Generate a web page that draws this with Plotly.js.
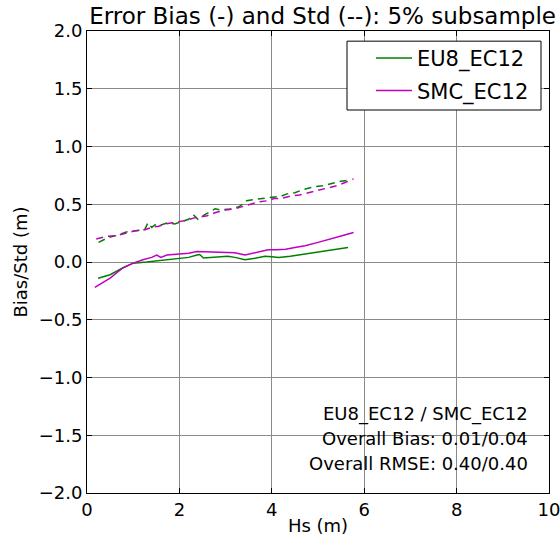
<!DOCTYPE html>
<html>
<head>
<meta charset="utf-8">
<script src="https://cdn.plot.ly/plotly-3.0.1.min.js"></script>
<style>html,body{margin:0;padding:0;background:#fff;}#chart{width:560px;height:537px;}</style>
</head>
<body>
<div id="chart"></div>
<script>
// Bias (solid)
const euBiasX = [0.24,0.5,0.78,1.0,1.29,1.5,1.73,1.99,2.2,2.38,2.44,2.52,2.7,2.89,3.05,3.2,3.42,3.6,3.85,4.0,4.15,4.4,4.72,5.0,5.2,5.45,5.65];
const euBiasY = [-0.14,-0.11,-0.05,-0.01,0.0,0.01,0.015,0.03,0.04,0.06,0.065,0.035,0.04,0.045,0.05,0.04,0.02,0.03,0.05,0.045,0.04,0.05,0.07,0.085,0.10,0.11,0.125];
const smcBiasX = [0.17,0.3,0.5,0.78,1.0,1.21,1.4,1.51,1.6,1.73,1.99,2.2,2.38,2.6,2.8,3.05,3.2,3.42,3.65,3.92,4.1,4.3,4.5,4.72,5.0,5.2,5.5,5.77];
const smcBiasY = [-0.22,-0.19,-0.14,-0.05,-0.01,0.02,0.04,0.06,0.04,0.06,0.065,0.075,0.09,0.087,0.087,0.087,0.08,0.06,0.08,0.105,0.105,0.11,0.125,0.14,0.17,0.19,0.225,0.255];
// Std (dashed)
const euStdX = [0.25,0.45,0.65,0.85,1.05,1.25,1.32,1.4,1.5,1.6,1.75,1.9,2.05,2.2,2.3,2.4,2.55,2.77,2.9,3.1,3.3,3.45,3.6,3.8,3.97,4.2,4.33,4.5,4.7,4.9,5.1,5.3,5.5,5.7];
const euStdY = [0.17,0.21,0.23,0.26,0.27,0.28,0.34,0.30,0.33,0.32,0.34,0.33,0.35,0.37,0.41,0.37,0.41,0.46,0.45,0.46,0.48,0.53,0.54,0.55,0.56,0.57,0.59,0.60,0.63,0.65,0.66,0.68,0.70,0.71];
const smcStdX = [0.2,0.4,0.65,0.85,1.05,1.25,1.4,1.55,1.7,1.85,2.0,2.15,2.3,2.45,2.6,2.8,3.0,3.2,3.35,3.5,3.7,3.9,4.05,4.2,4.4,4.6,4.8,5.0,5.2,5.4,5.6,5.77];
const smcStdY = [0.20,0.22,0.23,0.25,0.27,0.28,0.30,0.31,0.33,0.34,0.35,0.36,0.38,0.39,0.40,0.43,0.45,0.46,0.48,0.50,0.52,0.53,0.55,0.55,0.57,0.58,0.60,0.62,0.64,0.66,0.69,0.72];

const legendNames = ["EU8_EC12", "SMC_EC12"];
const statLines = ["EU8_EC12 / SMC_EC12", "Overall Bias: 0.01/0.04", "Overall RMSE: 0.40/0.40"];

const GREEN = "#008000", MAG = "#bf00bf";
const FONT = "DejaVu Sans, sans-serif";

const traces = [
  {x: euBiasX, y: euBiasY, mode: "lines", name: legendNames[0], legendgroup: "a", line: {color: GREEN, width: 1.5}},
  {x: smcBiasX, y: smcBiasY, mode: "lines", name: legendNames[1], legendgroup: "b", line: {color: MAG, width: 1.5}},
  {x: euStdX, y: euStdY, mode: "lines", showlegend: false, line: {color: GREEN, width: 1.5, dash: "7px,5px"}},
  {x: smcStdX, y: smcStdY, mode: "lines", showlegend: false, line: {color: MAG, width: 1.5, dash: "7px,5px"}}
];

const axisCommon = {
  showline: true, mirror: "ticks", linecolor: "#000", linewidth: 1,
  ticks: "inside", ticklen: 5, tickcolor: "#000",
  showgrid: true, gridcolor: "#8a8a8a", gridwidth: 1,
  zeroline: false, ticklabeloverflow: "allow",
  tickfont: {family: FONT, size: 18, color: "#000"}
};

const layout = {
  width: 560, height: 537,
  margin: {l: 87, r: 11, t: 31, b: 44},
  paper_bgcolor: "#fff", plot_bgcolor: "#fff",
  font: {family: FONT, color: "#000"},
  title: {text: "Error Bias (-) and Std (--): 5% subsample", font: {family: FONT, size: 23, color: "#000"},
    xref: "paper", x: 0.51, xanchor: "center", yref: "container", y: 1 - 16 / 537, yanchor: "middle"},
  xaxis: Object.assign({}, axisCommon, {range: [0, 10], dtick: 2, tick0: 0,
    title: {text: "Hs (m)", font: {family: FONT, size: 18}, standoff: 0}}),
  yaxis: Object.assign({}, axisCommon, {range: [-2, 2], dtick: 0.5, tick0: 0, tickformat: ".1f",
    title: {text: "Bias/Std (m)", font: {family: FONT, size: 18}, standoff: 6}}),
  legend: {x: 0.9675, y: 0.985, xanchor: "right", yanchor: "top", borderwidth: 0,
    bgcolor: "rgba(0,0,0,0)", font: {family: FONT, size: 21}, itemwidth: 36, tracegroupgap: 2},
  shapes: [{type: "rect", xref: "paper", yref: "paper", x0: 0.5628, x1: 0.9827, y0: 0.829, y1: 0.978,
    line: {color: "#000", width: 1}, fillcolor: "#fff", layer: "above"}],
  annotations: statLines.map((t, i) => ({
    text: t, xref: "paper", yref: "paper", x: 0.958, xanchor: "right",
    y: (493 - (414 + i * 24.5)) / 462, yanchor: "middle", showarrow: false,
    font: {family: FONT, size: 18, color: "#000"}
  }))
};

Plotly.newPlot("chart", traces, layout, {displayModeBar: false, staticPlot: true});
</script>
</body>
</html>
